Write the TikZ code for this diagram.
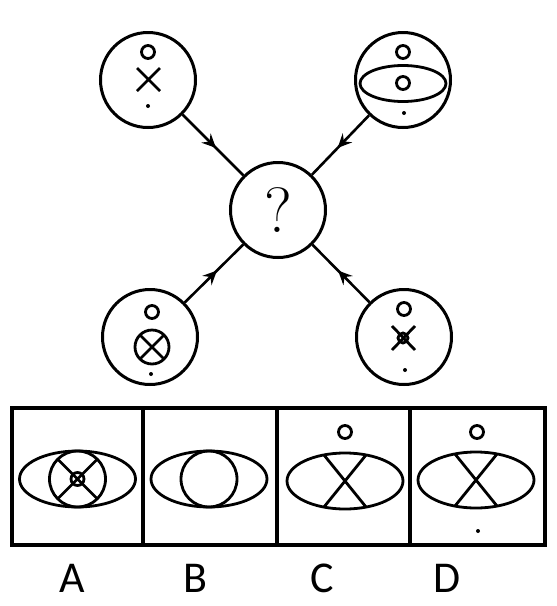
\documentclass[tikz,border=0pt]{standalone}
\usepackage{fontspec}
\newfontfamily\labfont{Carlito}
\usetikzlibrary{arrows.meta,decorations.markings}
\tikzset{
  bigcirc/.style={circle,draw,line width=3pt,minimum size=95pt,inner sep=0pt},
  sym/.style={line width=2.8pt},
  conn/.style={line width=2.6pt,postaction={decorate},
    decoration={markings,mark=at position 0.55 with {\arrow{Stealth[length=14pt,width=13pt,inset=5pt]}}}},
  boxline/.style={line width=3.5pt},
  lab/.style={font=\labfont\fontsize{44}{44}\selectfont,inner sep=0pt},
  pdot/.style={fill=black,draw=none}
}
\begin{document}
\begin{tikzpicture}[x=1pt,y=-1pt]
\useasboundingbox (0,0) rectangle (557,606);
% circles
\node[bigcirc] (tl) at (148,80) {};
\node[bigcirc] (tr) at (403,80) {};
\node[bigcirc] (bl) at (150,337) {};
\node[bigcirc] (br) at (404,337) {};
\node[bigcirc,font=\fontsize{64}{64}\selectfont] (c) at (278,210) {?};
% connectors
\draw[conn] (tl) -- (c);
\draw[conn] (tr) -- (c);
\draw[conn] (bl) -- (c);
\draw[conn] (br) -- (c);
% top-left content
\draw[sym] (148,52) circle[radius=6.5pt];
\draw[sym] (137,68) -- (160,91) (160,68) -- (137,91);
\fill[pdot] (148,106) circle[radius=2pt];
% top-right content
\draw[sym] (403,52) circle[radius=6.5pt];
\draw[sym] (403,83.5) ellipse[x radius=43pt,y radius=18pt];
\draw[sym] (403,83) circle[radius=6.5pt];
\fill[pdot] (404,113) circle[radius=2pt];
% bottom-left content
\draw[sym] (152,312) circle[radius=6.5pt];
\draw[sym] (152,347) circle[radius=17pt];
\draw[sym] (140,335) -- (164,359) (164,335) -- (140,359);
\fill[pdot] (151,374) circle[radius=2pt];
% bottom-right content
\draw[sym] (404,309) circle[radius=6.5pt];
\draw[sym] (392,326) -- (415,350) (415,326) -- (392,350);
\draw[sym] (403,338) circle[radius=5pt];
\fill[pdot] (405,370) circle[radius=2pt];
% answer box
\draw[boxline] (12,408) rectangle (545,545);
\draw[boxline] (143,408) -- (143,545);
\draw[boxline] (277,408) -- (277,545);
\draw[boxline] (410,408) -- (410,545);
% panel A
\draw[sym] (77.5,479) ellipse[x radius=58pt,y radius=28pt];
\draw[sym] (77.5,479) circle[radius=28pt];
\draw[sym] (57.7,459.2) -- (97.3,498.8) (97.3,459.2) -- (57.7,498.8);
\draw[sym] (77.5,479) circle[radius=6.5pt];
% panel B
\draw[sym] (209,479) ellipse[x radius=58pt,y radius=28pt];
\draw[sym] (209,479) circle[radius=28pt];
% panel C
\draw[sym] (345,432) circle[radius=6.5pt];
\draw[sym] (345,481) ellipse[x radius=58pt,y radius=28pt];
\draw[sym] (324,455) -- (366,507) (366,455) -- (324,507);
% panel D
\draw[sym] (477,432) circle[radius=6.5pt];
\draw[sym] (476,480) ellipse[x radius=58pt,y radius=28pt];
\draw[sym] (455,454) -- (497,506) (497,454) -- (455,506);
\fill[pdot] (478,531) circle[radius=2pt];
% labels
\node[lab] (la) at (72,578) {A};
\node[lab] (lb) at (195,578) {B};
\node[lab] (lc) at (322,578) {C};
\node[lab] (ld) at (447,578) {D};
\end{tikzpicture}
\end{document}
